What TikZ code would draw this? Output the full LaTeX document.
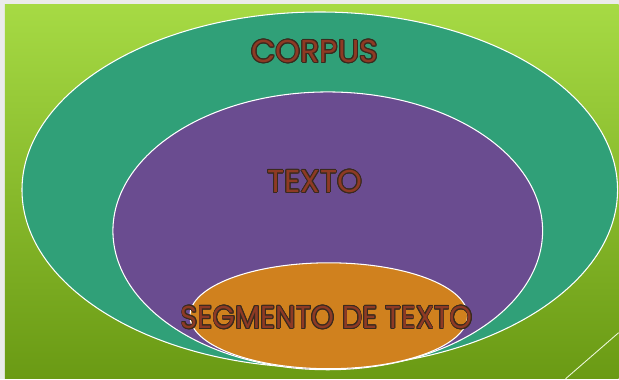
\documentclass[tikz,border=0pt]{standalone}
\usepackage{xcolor}
\usepackage{fontspec}
\newfontfamily\gothicfont{Poppins}
\usepackage{contour}
\contourlength{0.5pt}
\usepackage{tikz}
\usetikzlibrary{positioning}

\definecolor{frame}{HTML}{EBEBEB}
\definecolor{grasstop}{HTML}{A6DA44}
\definecolor{grassbot}{HTML}{6A9A14}
\definecolor{corpus}{HTML}{30A078}
\definecolor{texto}{HTML}{6A4C90}
\definecolor{segmento}{HTML}{D0811E}
\definecolor{brick}{HTML}{8E3A24}
\definecolor{rim}{HTML}{3A2A1E}

\newcommand{\setname}[1]{\contour{rim}{\textcolor{brick}{#1}}}

\begin{document}
\begin{tikzpicture}[x=0.02cm,y=0.02cm,
	zone/.style={draw=white,line width=0.6pt},
	setlabel/.style={inner sep=0pt,font=\gothicfont\fontsize{18}{18}\selectfont}]
	\fill[frame] (0,0) rectangle (619,379);
	\shade[top color=grasstop,bottom color=grassbot] (5,0) rectangle (619,374);
	\draw[white!80!grasstop,line width=0.5pt] (566,0) -- (619,46);
	% the three nested sets
	\filldraw[zone,fill=corpus]   (320,189) ellipse [x radius=298,y radius=178];
	\filldraw[zone,fill=texto]    (328,148) ellipse [x radius=215,y radius=139];
	\filldraw[zone,fill=segmento] (329,63)  ellipse [x radius=139,y radius=53];
	\node[setlabel] (corpus) at (315,327) {\setname{CORPUS}};
	\node[setlabel] (texto) at (315,197) {\setname{TEXTO}};
	\node[setlabel,transform shape,xscale=0.92] (segmento) at (327,61) {\setname{SEGMENTO DE TEXTO}};
\end{tikzpicture}
\end{document}
